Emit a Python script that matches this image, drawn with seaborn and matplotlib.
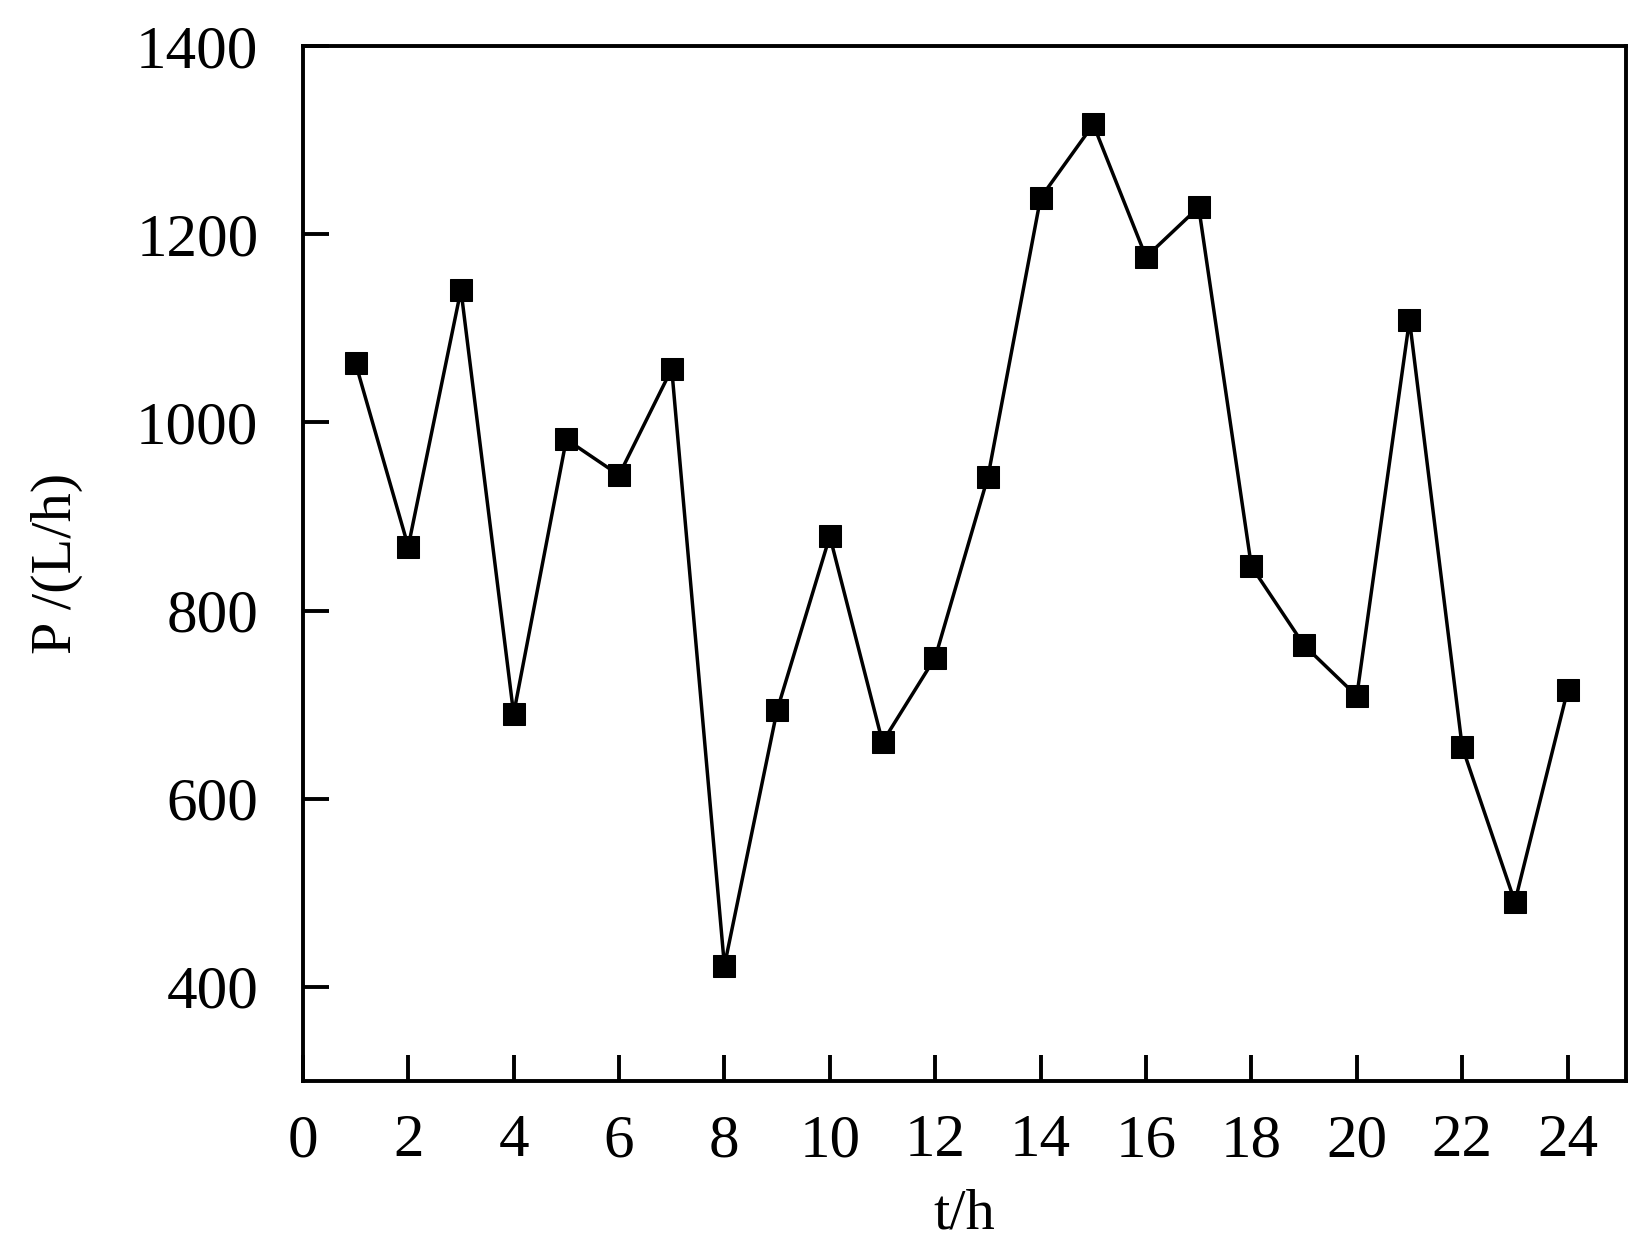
import matplotlib
matplotlib.use("Agg")
import matplotlib.pyplot as plt
import pandas as pd
import seaborn as sns

# ------------------ DATA ------------------
hours = list(range(1, 25))
flow = [1063, 868, 1141, 690, 982, 944, 1057, 422, 694, 879, 660, 750,
        942, 1239, 1317, 1176, 1229, 847, 763, 709, 1109, 655, 490, 715]
xticks = list(range(0, 25, 2))
yticks = [400, 600, 800, 1000, 1200, 1400]

df = pd.DataFrame({"t": hours, "P": flow})

# ------------------ STYLE ------------------
sns.set_theme(style="ticks")
plt.rcParams["font.family"] = ["Liberation Serif", "DejaVu Serif"]

fig = plt.figure(figsize=(16.37, 12.55), dpi=100)
ax = fig.add_axes([0.185, 0.139, 0.808, 0.824])

sns.lineplot(data=df, x="t", y="P", ax=ax, color="black", linewidth=2.5,
             marker="s", markersize=16, markeredgecolor="black",
             markerfacecolor="black")

ax.set_xlim(0, 25.1)
ax.set_ylim(300, 1400)
ax.set_xticks(xticks)
ax.set_yticks(yticks)

for side in ["top", "right", "left", "bottom"]:
    ax.spines[side].set_visible(True)
    ax.spines[side].set_linewidth(2.8)
    ax.spines[side].set_color("black")

ax.tick_params(direction="in", length=19, width=2.8, labelsize=44,
               colors="black")
ax.tick_params(axis="x", pad=24)
ax.tick_params(axis="y", pad=32)

ax.set_xlabel("t/h", fontsize=42, labelpad=14, color="black")
ax.set_ylabel("P /(L/h)", fontsize=42, labelpad=38, color="black")

fig.savefig("out.png", dpi=100)
